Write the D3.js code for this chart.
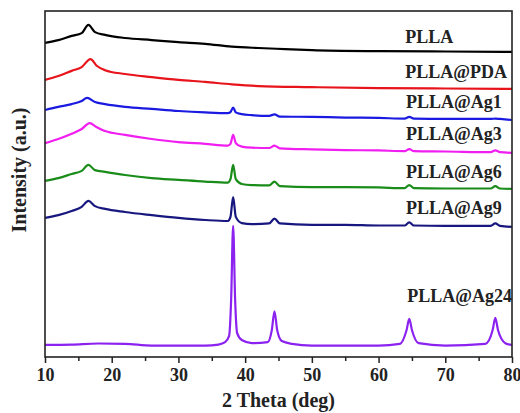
<!DOCTYPE html>
<html>
<head>
<meta charset="utf-8">
<script src="https://cdn.jsdelivr.net/npm/d3@7"></script>
<style>
  body { margin: 0; background: #fff; }
  text { font-family: "Liberation Serif", "Times New Roman", serif; font-weight: bold; fill: #222; }
  .trace { fill: none; stroke-width: 2.2px; stroke-linejoin: round; }
</style>
</head>
<body>
<script>
// XRD patterns, offset intensity in a.u. (pairs of [2theta, intensity])
var plla = [[10,90.8],[12,91.6],[14,92.8],[15.5,93.6],[16.5,96.0],[17.5,93.9],[19,93.1],[22,92.2],[26,91.6],[30,91.0],[34,90.5],[38,89.7],[42,89.3],[46,89.0],[50,88.7],[60,88.4],[70,88.3],[80,88.2]];
var pllaPda = [[10,80.1],[12,81.2],[14,82.7],[15.5,83.8],[16.8,86.1],[17.8,84.1],[19,82.9],[22,81.8],[26,80.9],[30,80.1],[34,79.5],[38,78.8],[42,78.3],[50,78.0],[60,77.7],[70,77.6],[80,77.5]];
var pllaAg1 = [[10,71.4],[12,72.3],[14,73.1],[15.5,74.0],[16.3,74.9],[17.5,73.7],[19,73.1],[22,72.3],[26,71.7],[30,71.1],[34,70.7],[37.4,70.5],[37.8,70.8],[38.2,72.1],[38.6,70.7],[39.5,70.2],[41,69.9],[43.6,69.7],[44.4,70.1],[45.2,69.5],[50,69.4],[55,69.2],[60,69.1],[63.9,68.9],[64.6,69.4],[65.3,68.9],[70,68.8],[76.8,68.8],[77.5,68.9],[78.2,68.8],[80,68.5]];
var pllaAg3 = [[10,61.8],[12,63.0],[14,64.5],[15.5,65.9],[16.7,67.6],[17.7,66.5],[19,65.3],[22,64.2],[26,63.0],[30,62.1],[34,61.6],[37.4,61.1],[37.8,61.6],[38.2,64.2],[38.6,61.8],[39.5,60.8],[41,60.5],[43.6,60.4],[44.4,61.1],[45.2,60.3],[50,60.0],[55,59.8],[60,59.7],[63.9,59.5],[64.6,60.1],[65.3,59.5],[70,59.4],[76.8,59.2],[77.5,59.7],[78.2,59.2],[80,59.0]];
var pllaAg6 = [[10,50.9],[12,51.7],[14,52.9],[15.5,53.8],[16.5,55.5],[17.5,54.0],[19,53.5],[22,52.6],[26,51.7],[30,51.2],[34,50.7],[37.4,50.4],[37.8,51.4],[38.2,55.5],[38.6,51.4],[39.5,50.0],[41,49.7],[43.6,49.6],[44.4,50.7],[45.2,49.4],[50,49.1],[55,49.1],[60,49.0],[63.9,48.8],[64.6,49.7],[65.3,48.8],[70,48.7],[76.8,48.7],[77.5,49.4],[78.2,48.7],[80,48.6]];
var pllaAg9 = [[10,40.2],[12,41.0],[14,42.2],[15.5,43.4],[16.5,45.1],[17.5,43.6],[19,42.8],[22,41.9],[26,41.0],[30,40.2],[34,39.6],[37.4,39.3],[37.8,40.5],[38.2,46.2],[38.6,40.5],[39.5,38.7],[41,38.4],[43.6,38.6],[44.4,40.0],[45.2,38.6],[50,38.2],[55,38.2],[60,38.0],[63.9,38.0],[64.6,38.9],[65.3,38.0],[70,37.9],[76.8,37.9],[77.5,38.6],[78.2,37.9],[80,37.6]];
var pllaAg24 = [[10,3.5],[14,3.6],[18,3.9],[22,3.8],[26,3.3],[30,3.3],[34,3.3],[36,3.6],[37,4.3],[37.6,6.1],[37.9,16.5],[38.2,37.9],[38.5,16.5],[38.8,6.9],[39.5,4.9],[41,4.0],[43.4,4.3],[44.0,7.8],[44.4,13.2],[44.8,7.8],[45.5,4.6],[47,3.8],[50,3.3],[55,3.3],[60,3.3],[63.2,3.8],[64.2,7.8],[64.6,11.0],[65.0,7.8],[66,4.0],[70,3.3],[76,3.8],[77.1,7.8],[77.5,11.3],[77.9,7.8],[79,4.0],[80,3.5]];

var seriesNames = ["PLLA", "PLLA@PDA", "PLLA@Ag1", "PLLA@Ag3", "PLLA@Ag6", "PLLA@Ag9", "PLLA@Ag24"];
var seriesData = [plla, pllaPda, pllaAg1, pllaAg3, pllaAg6, pllaAg9, pllaAg24];
var seriesColors = ["#000000", "#e8141b", "#1a1ae0", "#f01ef0", "#1a8c1a", "#17177f", "#8b22f0"];
// intensity at which each label sits
var labelLevels = [90.8, 80.6, 71.9, 62.7, 51.7, 41.3, 15.9];
var labelX = [64.0, 64.0, 64.1, 64.1, 64.1, 64.1, 64.3];
var xTicks = [10, 20, 30, 40, 50, 60, 70, 80];

var margin = {top: 11, right: 8, bottom: 56, left: 45},
    width = 520 - margin.left - margin.right,
    height = 413 - margin.top - margin.bottom;

var x = d3.scaleLinear().domain([10, 80]).range([0, width]);
var y = d3.scaleLinear().domain([0, 100]).range([height, 0]);

var svg = d3.select("body").append("svg")
  .attr("width", 520).attr("height", 413)
  .append("g").attr("transform", "translate(" + margin.left + "," + margin.top + ")");

var line = d3.line()
  .x(function(d) { return x(d[0]); })
  .y(function(d) { return y(d[1]); })
  .curve(d3.curveMonotoneX);

seriesData.forEach(function(s, i) {
  svg.append("path").datum(s)
    .attr("class", "trace")
    .attr("stroke", seriesColors[i])
    .attr("d", line);
  svg.append("text")
    .attr("x", x(labelX[i]))
    .attr("y", y(labelLevels[i]))
    .attr("font-size", 18)
    .text(seriesNames[i]);
});

// frame
svg.append("rect").attr("width", width).attr("height", height)
  .attr("fill", "none").attr("stroke", "#222").attr("stroke-width", 1.6);

// minor ticks
svg.append("g").attr("transform", "translate(0," + height + ")")
  .call(d3.axisBottom(x).tickValues(d3.range(15, 80, 10)).tickSize(4).tickFormat(""))
  .call(function(g) { g.select(".domain").remove(); g.selectAll("line").attr("stroke", "#222").attr("stroke-width", 1.5); });

// major ticks
var xAxis = svg.append("g").attr("transform", "translate(0," + height + ")")
  .call(d3.axisBottom(x).tickValues(xTicks).tickSize(6).tickPadding(5));
xAxis.select(".domain").remove();
xAxis.selectAll("line").attr("stroke", "#222").attr("stroke-width", 1.5);
xAxis.selectAll("text").attr("font-size", 18).attr("font-family", "Liberation Serif").attr("font-weight", "bold").attr("fill", "#222");

svg.append("text")
  .attr("x", width / 2)
  .attr("y", height + 50)
  .attr("text-anchor", "middle")
  .attr("font-size", 20)
  .text("2 Theta (deg)");

svg.append("text")
  .attr("transform", "rotate(-90)")
  .attr("x", -170 + margin.top)
  .attr("y", -19)
  .attr("text-anchor", "middle")
  .attr("font-size", 20)
  .text("Intensity (a.u.)");
</script>
</body>
</html>
